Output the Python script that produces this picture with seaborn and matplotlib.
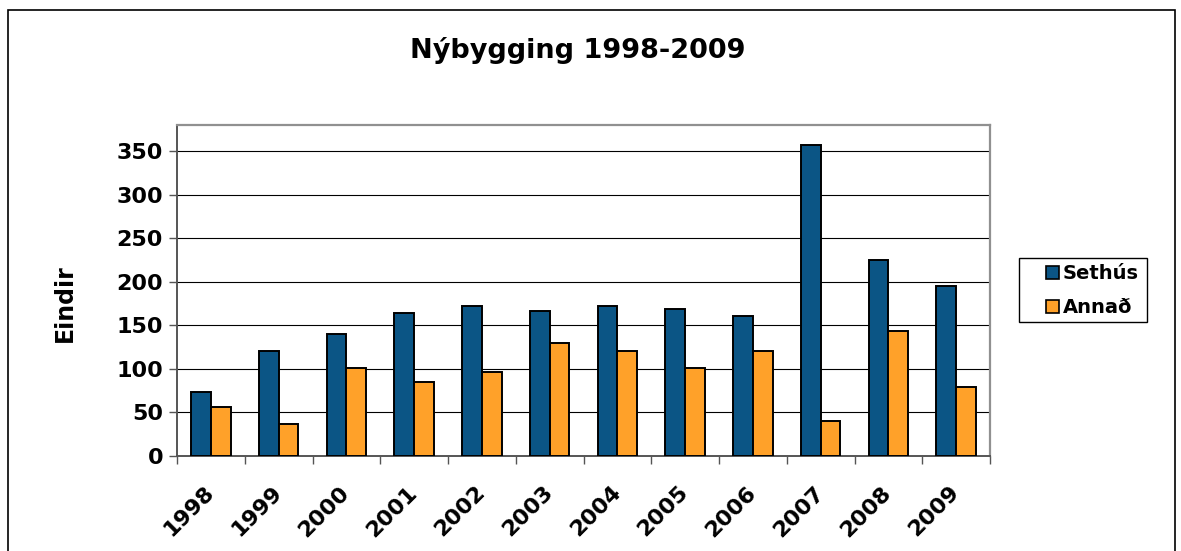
import pandas as pd
import seaborn as sns
import matplotlib.pyplot as plt
from matplotlib.patches import Rectangle, Patch

years = ["1998", "1999", "2000", "2001", "2002", "2003",
         "2004", "2005", "2006", "2007", "2008", "2009"]
sethus = [73, 121, 140, 164, 172, 167, 172, 169, 161, 357, 225, 195]
annad = [56, 37, 101, 85, 97, 130, 120, 101, 120, 40, 143, 79]
series = ["Sethús", "Annað"]
colors = ["#0B5585", "#FFA129"]

df = pd.DataFrame({"Ár": years * 2,
                   "Eindir": sethus + annad,
                   "Tegund": [series[0]] * 12 + [series[1]] * 12})

sns.set_theme(style="white")
plt.rcParams["font.family"] = ["DejaVu Sans"]
plt.rcParams["font.weight"] = "bold"
plt.rcParams["text.color"] = "black"
plt.rcParams["axes.labelcolor"] = "black"
plt.rcParams["xtick.labelcolor"] = "black"
plt.rcParams["ytick.labelcolor"] = "black"

fig = plt.figure(figsize=(11.81, 5.51), dpi=100)
ax = fig.add_axes([177 / 1181, 95 / 551, 813 / 1181, 331 / 551])

sns.barplot(data=df, x="Ár", y="Eindir", hue="Tegund", palette=colors,
            width=0.58, edgecolor="black", linewidth=1.4, saturation=1,
            legend=False, ax=ax, zorder=3)

ax.set_ylim(0, 380)
ax.set_xlim(-0.5, 11.5)
ax.set_yticks(range(0, 351, 50))
ax.yaxis.grid(True, color="black", linewidth=0.8, zorder=0)
ax.set_axisbelow(True)

# tick marks between categories, labels at centres
ax.set_xticks([i + 0.5 for i in range(-1, 12)], minor=True)
ax.tick_params(axis="x", which="minor", length=6, width=1, color="#555555",
               direction="out", bottom=True)
ax.tick_params(axis="x", which="major", length=0, pad=24, labelsize=16,
               labelcolor="black")
ax.tick_params(axis="y", length=6, width=1, color="#555555", direction="out",
               left=True, labelsize=16, pad=4, labelcolor="black")
for lab in ax.get_xticklabels():
    lab.set_rotation(45)
    lab.set_ha("right")
    lab.set_va("center")
    lab.set_rotation_mode("anchor")
    lab.set_fontweight("bold")
for lab in ax.get_yticklabels():
    lab.set_fontweight("bold")

ax.set_xlabel("")
ax.set_ylabel("Eindir", fontsize=17, fontweight="bold", color="black")
ax.yaxis.set_label_coords(-0.123, 0.462)

for side in ["top", "right"]:
    ax.spines[side].set_color("#909090")
    ax.spines[side].set_linewidth(1.6)
for side in ["left", "bottom"]:
    ax.spines[side].set_color("#555555")
    ax.spines[side].set_linewidth(1.4)

fig.text(578 / 1181, 1 - 50 / 551, "Nýbygging 1998-2009", fontsize=19.5,
         fontweight="bold", ha="center", va="center", color="black")

handles = [Patch(facecolor=c, edgecolor="black", linewidth=1.2) for c in colors]
leg = fig.legend(handles, series, loc="upper left",
                 bbox_to_anchor=(1046 / 1181, 1 - 264 / 551),
                 borderaxespad=0, borderpad=0, fontsize=14, frameon=False,
                 handlelength=0.68, handleheight=0.68, handletextpad=0.2,
                 labelspacing=0.78)
for t in leg.get_texts():
    t.set_fontweight("bold")
    t.set_color("black")

# legend box
fig.patches.append(Rectangle((1019 / 1181, 1 - 322 / 551), 128 / 1181, 64 / 551,
                             transform=fig.transFigure, fill=False,
                             edgecolor="black", linewidth=1.0))
# chart area border
fig.patches.append(Rectangle((8 / 1181, -0.1), 1167 / 1181, 541 / 551 + 0.1,
                             transform=fig.transFigure, fill=False,
                             edgecolor="black", linewidth=1.2))

fig.savefig("out.png", dpi=100, facecolor="white")
